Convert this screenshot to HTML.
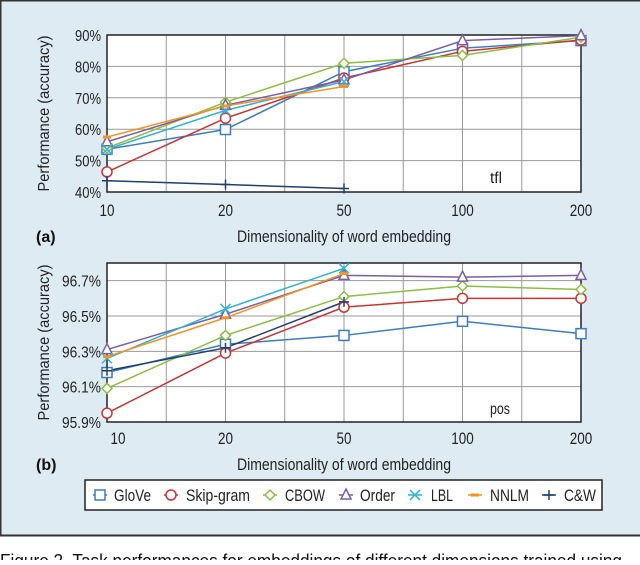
<!DOCTYPE html>
<html><head><meta charset="utf-8"><style>
body{margin:0;width:640px;height:560px;overflow:hidden;background:#fff;font-family:"Liberation Sans",sans-serif}
svg text{font-family:"Liberation Sans",sans-serif}
</style></head><body>
<svg id="fig" width="640" height="560">
<rect x="0.5" y="0.5" width="645" height="535" fill="#deebf3" stroke="#333" stroke-width="2"/>
<text x="0" y="567" font-size="18" textLength="622" lengthAdjust="spacingAndGlyphs" fill="#111">Figure 2. Task performances for embeddings of different dimensions trained using</text>
<g id="ga"></g><g id="gb"></g><g id="leg"></g>
</svg>
<script>
const categories=["10","20","50","100","200"];
const seriesNames=["GloVe","Skip-gram","CBOW","Order","LBL","NNLM","C&W"];
const colors=["#3a7cc7","#cc3333","#8cbf3f","#7b5ea7","#2fb3d3","#f7941d","#1f3f6f"];
const markers=["square","circle","diamond","triangle","x","dash","plus"];
const aGlove=[53.6,59.9,78.3,85.8,88.2];
const aSkip=[46.4,63.5,76.3,84.8,88.4];
const aCbow=[54,68.6,81,83.5,89.3];
const aOrder=[56,67.6,75.7,88.2,89.8];
const aLbl=[53.6,66,75.2];
const aNnlm=[57.5,67.4,73.6];
const aCw=[43.6,42.4,41.1];
const aTicks=["40%","50%","60%","70%","80%","90%"];
const aTickVals=[40,50,60,70,80,90];
const bGlove=[96.18,96.34,96.39,96.47,96.40];
const bSkip=[95.95,96.29,96.55,96.60,96.60];
const bCbow=[96.09,96.39,96.61,96.67,96.65];
const bOrder=[96.31,96.51,96.73,96.72,96.73];
const bLbl=[96.26,96.54,96.77];
const bNnlm=[96.27,96.49,96.74];
const bCw=[96.19,96.32,96.58];
const bTicks=["95.9%","96.1%","96.3%","96.5%","96.7%"];
const bTickVals=[95.9,96.1,96.3,96.5,96.7];
const NS="http://www.w3.org/2000/svg";
function mk(tag,attrs,parent){const e=document.createElementNS(NS,tag);for(const k in attrs)e.setAttribute(k,attrs[k]);parent.appendChild(e);return e;}
function marker(g,type,x,y,c){
  let e;
  if(type==="square")e=mk("rect",{x:x-5,y:y-5,width:10,height:10,fill:"#fff",stroke:c,"stroke-width":1.5},g);
  else if(type==="circle")e=mk("circle",{cx:x,cy:y,r:5,fill:"#fff",stroke:c,"stroke-width":1.5},g);
  else if(type==="diamond")e=mk("path",{d:`M${x} ${y-5}L${x+5} ${y}L${x} ${y+5}L${x-5} ${y}Z`,fill:"#fff",stroke:c,"stroke-width":1.5},g);
  else if(type==="triangle")e=mk("path",{d:`M${x} ${y-6}L${x+5} ${y+4}L${x-5} ${y+4}Z`,fill:"#fff",stroke:c,"stroke-width":1.5},g);
  else if(type==="x")e=mk("path",{d:`M${x-5} ${y-5}L${x+5} ${y+5}M${x+5} ${y-5}L${x-5} ${y+5}`,stroke:c,"stroke-width":1.5},g);
  else if(type==="dash")e=mk("path",{d:`M${x-4} ${y}L${x+4} ${y}`,stroke:c,"stroke-width":3},g);
  else e=mk("path",{d:`M${x-5} ${y}L${x+5} ${y}M${x} ${y-5}L${x} ${y+5}`,stroke:c,"stroke-width":1.5},g);
  
  
}
function chart(g,cfg){
  const L=107,R=581,T=cfg.top,B=cfg.bottom;
  const xs=i=>L+i*(R-L)/4;
  const ys=v=>B-(v-cfg.min)/(cfg.max-cfg.min)*(B-T);
  const bg=mk("rect",{x:L,y:T,width:R-L,height:B-T,fill:"#fff"},g);
  
  for(let k=1;k<8;k++){const x=L+k*(R-L)/8;const l=mk("line",{x1:x,y1:T,x2:x,y2:B,stroke:"#999","stroke-width":1},g);
    }
  cfg.tickVals.forEach((v,i)=>{const y=ys(v);
    const l=mk("line",{x1:L,y1:y,x2:R,y2:y,stroke:"#999","stroke-width":1},g);
    
    const t=mk("text",{x:101-cfg.tw,y:y+6,"font-size":16,fill:"#222",textLength:cfg.tw,lengthAdjust:"spacingAndGlyphs"},g);t.textContent=cfg.ticks[i];
    });
  const fr=mk("rect",{x:L,y:T,width:R-L,height:B-T,fill:"none",stroke:"#222","stroke-width":1.5},g);
  
  categories.forEach((c,i)=>{const w=c.length*7.5;const t=mk("text",{x:xs(i)+(cfg.off&&i===0?11:0)-w/2,y:cfg.xl,"font-size":17,fill:"#222",textLength:w,lengthAdjust:"spacingAndGlyphs"},g);t.textContent=c;
    });
  cfg.series.forEach((d,s)=>{
    const p=mk("polyline",{points:d.map((v,i)=>xs(i)+","+ys(v)).join(" "),fill:"none",stroke:colors[s],"stroke-width":1.5},g);
    
    
  });
  cfg.series.forEach((d,s)=>d.forEach((v,i)=>marker(g,markers[s],xs(i),ys(v),colors[s])));
  const yt=mk("text",{x:-78,y:0,transform:`translate(49,${(T+B)/2}) rotate(-90)`,"font-size":16,fill:"#222",textLength:156,lengthAdjust:"spacingAndGlyphs"},g);
  yt.textContent="Performance (accuracy)";
  const xt=mk("text",{x:237,y:cfg.xt,"font-size":17,fill:"#222",textLength:214,lengthAdjust:"spacingAndGlyphs"},g);
  xt.textContent="Dimensionality of word embedding";
  const pl=mk("text",{x:36,y:cfg.xt,"font-size":16,"font-weight":"bold",fill:"#111"},g);
  pl.textContent=cfg.label;
  const tl=mk("text",{x:cfg.tagX,y:cfg.tagY,"font-size":16,fill:"#222",textLength:cfg.tagW,lengthAdjust:"spacingAndGlyphs"},g);
  tl.textContent=cfg.tag;
}
chart(document.getElementById("ga"),{top:35,bottom:192,min:40,max:90,ticks:aTicks,tickVals:aTickVals,tw:26,
  series:[aGlove,aSkip,aCbow,aOrder,aLbl,aNnlm,aCw],xl:216,xt:242,label:"(a)",tag:"tfl",tagX:490,tagY:183,tagW:12});
chart(document.getElementById("gb"),{top:263,bottom:422,min:95.9,max:96.8,ticks:bTicks,tickVals:bTickVals,tw:39,
  series:[bGlove,bSkip,bCbow,bOrder,bLbl,bNnlm,bCw],xl:444,xt:470,label:"(b)",tag:"pos",tagX:490,tagY:414,tagW:20,off:true});
const leg=document.getElementById("leg");
const lb=mk("rect",{x:85,y:480,width:517,height:30,fill:"#fff",stroke:"#222","stroke-width":1.5},leg);

const legM=[100,171,270,346,415,475,549];
const legT=[114,186,285,360,431,490,564];
const legW=[37,64,40,35,22,39,32];
seriesNames.forEach((n,s)=>{
  const x=legM[s],y=495;
  const l=mk("line",{x1:x-7,y1:y,x2:x+7,y2:y,stroke:colors[s],"stroke-width":1.5},leg);
  
  marker(leg,markers[s],x,y,colors[s]);
  const t=mk("text",{x:legT[s],y:y+6,"font-size":17,fill:"#222",textLength:legW[s],lengthAdjust:"spacingAndGlyphs"},leg);t.textContent=n;
  
});
</script>
</body></html>
